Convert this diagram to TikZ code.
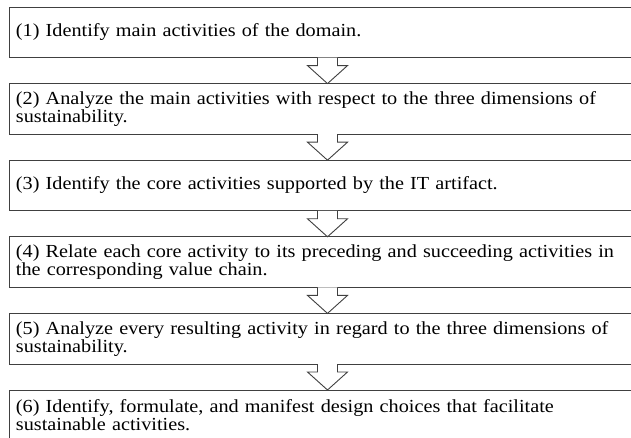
\documentclass[tikz,border=0pt]{standalone}
\usepackage{fontspec}
\setmainfont[FakeStretch=1.1]{Liberation Serif}
\usetikzlibrary{positioning}

\begin{document}
\begin{tikzpicture}[x=1pt,y=1pt,
    stepbox/.style={draw=black!75, line width=0.9pt, anchor=north west,
        minimum width=637pt, minimum height=50.6pt, text width=623pt,
        inner xsep=7pt, inner ysep=0pt, outer sep=0pt, align=left,
        font=\fontsize{18.4}{18}\selectfont},
    blockarrow/.style={draw=black!75, line width=0.9pt, fill=white, line join=miter}]
   \useasboundingbox (0,0) rectangle (631,-438);

   % the six steps
   \node[stepbox] (s1) at (9,-7) {(1) Identify main activities of the domain.};
   \node[stepbox, below=26pt of s1] (s2) {(2) Analyze the main activities with respect to the three dimensions of\\sustainability.};
   \node[stepbox, below=26pt of s2] (s3) {(3) Identify the core activities supported by the IT artifact.};
   \node[stepbox, below=26pt of s3] (s4) {(4) Relate each core activity to its preceding and succeeding activities in\\the corresponding value chain.};
   \node[stepbox, below=26pt of s4] (s5) {(5) Analyze every resulting activity in regard to the three dimensions of\\sustainability.};
   \node[stepbox, below=26pt of s5] (s6) {(6) Identify, formulate, and manifest design choices that facilitate\\sustainable activities.};

   %%%% hollow arrows between the steps
   \def\stem{10} \def\head{20} \def\neck{8}
   \foreach \a/\b in {s1/s2, s2/s3, s3/s4, s4/s5, s5/s6}
       {
       \draw[blockarrow] ([xshift=-\stem]\a.south) -- ++(0,-\neck) -- ([xshift=-\head,yshift=-\neck]\a.south)
           -- (\b.north) -- ([xshift=\head,yshift=-\neck]\a.south) -- ++(-\head+\stem,0) -- ++(0,\neck);
       }
\end{tikzpicture}
\end{document}
